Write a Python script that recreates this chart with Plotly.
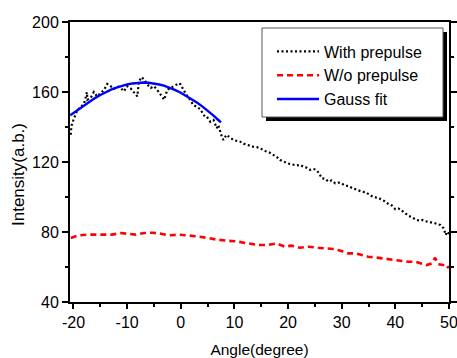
import plotly.graph_objects as go

# ---- data ----
with_x = [-20.5, -20.4, -19.9, -19.6, -19.3, -18.7, -18.0, -17.5, -17.4, -16.8, -16.2, -15.9, -15.6,
          -14.9, -14.3, -13.7, -13.1, -12.4, -11.8, -11.2, -10.6, -10.0, -9.3, -8.7, -8.1, -7.8,
          -7.3, -6.8, -6.2, -5.6, -5.0, -4.4, -3.7, -3.1, -2.5, -1.9, -1.25, -0.3, 0.0, 0.6, 1.0,
          1.5, 2.2, 2.35, 3.0, 3.6, 4.5, 4.85, 5.5, 6.1, 6.7, 7.0, 7.65, 7.95, 8.5, 9.2, 9.8, 10.5,
          11.1, 11.7, 12.3, 13.0, 13.5, 14.2, 14.8, 15.4, 16.0, 16.6, 17.3, 17.9, 18.5, 19.1, 19.8,
          20.4, 21.0, 21.6, 22.3, 22.9, 23.5, 24.1, 24.7, 25.2, 25.7, 26.3, 26.9, 27.5, 28.1, 28.8,
          29.4, 30.0, 30.6, 31.3, 31.9, 32.5, 33.2, 33.8, 34.4, 35.0, 35.6, 36.3, 36.9, 37.5, 38.1,
          38.7, 39.4, 40.0, 40.6, 41.2, 41.9, 42.5, 43.1, 43.7, 44.4, 45.0, 45.6, 46.2, 46.8, 47.4,
          47.9, 48.4, 49.0, 49.4, 49.6, 50.0]
with_y = [135.6, 140.4, 145.1, 147.0, 149.9, 150.9, 153.7, 159.8, 155.6, 156.6, 160.0, 158.5, 157.5,
          159.4, 161.3, 164.6, 163.3, 161.9, 163.3, 162.3, 160.4, 163.3, 161.9, 159.4, 157.5, 166.0,
          168.5, 167.0, 164.2, 162.3, 163.3, 161.3, 158.5, 155.6, 161.3, 162.3, 163.3, 165.1, 164.2,
          160.4, 158.5, 156.6, 153.7, 152.6, 151.5, 150.2, 145.9, 145.9, 143.0, 144.0, 139.3, 141.1,
          134.5, 132.6, 135.5, 134.1, 132.6, 132.0, 131.6, 130.5, 129.7, 129.2, 128.7, 128.5, 127.8,
          126.8, 125.9, 125.3, 124.0, 122.8, 121.1, 120.5, 119.3, 118.8, 118.3, 118.0, 118.3, 117.2,
          116.7, 115.5, 116.0, 115.6, 113.9, 110.7, 110.5, 108.8, 109.5, 107.8, 108.2, 107.8, 106.5,
          106.3, 105.2, 104.4, 103.6, 103.0, 102.8, 101.7, 100.5, 99.8, 99.5, 98.3, 97.5, 96.0, 95.0,
          93.0, 93.4, 92.2, 90.5, 89.1, 88.5, 87.2, 86.5, 86.9, 86.2, 85.9, 85.3, 85.0, 84.5, 84.0,
          82.1, 78.3, 80.2, 79.0]

wo_x = [-20.5, -19.0, -17.4, -15.9, -14.3, -12.8, -11.2, -10.0, -8.4, -6.8, -5.3, -3.7, -2.2, -0.3,
        1.2, 3.1, 5.0, 6.8, 8.7, 10.3, 12.1, 14.0, 14.4, 16.3, 17.8, 19.4, 20.6, 22.2, 23.8, 25.6,
        26.9, 28.4, 30.0, 31.2, 32.5, 33.7, 34.9, 36.2, 37.4, 38.7, 39.9, 41.2, 42.4, 43.7, 44.9,
        45.8, 46.8, 47.4, 48.0, 48.9, 49.6, 50.0]
wo_y = [76.6, 78.1, 78.5, 78.5, 78.9, 78.5, 79.4, 79.0, 78.5, 79.4, 79.6, 79.0, 78.1, 78.5,
        78.1, 77.5, 76.6, 75.6, 75.0, 74.7, 73.7, 72.7, 72.6, 72.6, 73.5, 71.6, 72.2, 71.0, 71.6, 71.0,
        70.7, 70.3, 69.1, 67.8, 67.8, 66.9, 65.9, 65.5, 65.0, 64.4, 64.0, 63.4, 63.0, 63.0, 62.1,
        61.1, 62.1, 65.3, 61.6, 61.1, 59.3, 60.5]

fit_x = [-20.6, -20, -19, -18, -17, -16, -15, -14, -13, -12, -11, -10, -9, -8, -7, -6, -5, -4, -3,
         -2, -1, 0, 1, 2, 3, 4, 5, 6, 7, 7.5]
fit_y = [146.7, 148.0, 150.3, 152.5, 154.6, 156.5, 158.3, 159.9, 161.3, 162.5, 163.5, 164.3, 164.9,
         165.3, 165.4, 165.3, 164.9, 164.3, 163.5, 162.4, 161.1, 159.6, 157.9, 156.0, 154.0, 151.8,
         149.4, 146.8, 144.0, 142.6]

x_ticks = [-20, -10, 0, 10, 20, 30, 40, 50]
y_ticks = [40, 80, 120, 160, 200]

FONT = "Liberation Sans, Arial, sans-serif"

fig = go.Figure()
fig.add_trace(go.Scatter(x=with_x, y=with_y, mode="lines", name="With prepulse",
                         line=dict(color="black", width=2.2, dash="2px,2.5px")))
fig.add_trace(go.Scatter(x=wo_x, y=wo_y, mode="lines", name="W/o prepulse",
                         line=dict(color="#ff0000", width=2.6, dash="6px,4px")))
fig.add_trace(go.Scatter(x=fit_x, y=fit_y, mode="lines", name="Gauss fit",
                         line=dict(color="#0000ff", width=2.4)))

L, R, T, B = 70, 8, 22, 56
W, H = 457, 358
pw, ph = W - L - R, H - T - B


def px_x(p):
    return (p - L) / pw


def px_y(p):
    return (H - B - p) / ph


fig.update_layout(
    width=W, height=H,
    margin=dict(l=L, r=R, t=T, b=B, pad=0, autoexpand=False),
    paper_bgcolor="white", plot_bgcolor="white",
    font=dict(family=FONT, size=16, color="black"),
    showlegend=True,
    legend=dict(x=px_x(272), y=px_y(34.5), xanchor="left", yanchor="top",
                bgcolor="rgba(0,0,0,0)", borderwidth=0,
                font=dict(family=FONT, size=16, color="black"),
                itemwidth=42, tracegroupgap=0),
    shapes=[
        # legend drop shadow and frame
        dict(type="rect", xref="paper", yref="paper",
             x0=px_x(266), x1=px_x(447), y0=px_y(32), y1=px_y(121),
             fillcolor="black", line=dict(width=0), layer="above"),
        dict(type="rect", xref="paper", yref="paper",
             x0=px_x(262), x1=px_x(443), y0=px_y(28), y1=px_y(117),
             fillcolor="white", line=dict(width=1, color="#555555"), layer="above"),
    ],
    xaxis=dict(range=[-20.65, 50], tickvals=x_ticks, ticktext=[str(v) for v in x_ticks],
               automargin=False, ticklabeloverflow="allow",
               showgrid=False, zeroline=False, showline=True, linecolor="black", linewidth=2,
               mirror=True, ticks="outside", ticklen=5, tickwidth=1.5, tickcolor="black",
               minor=dict(dtick=5, tick0=0, ticks="outside", ticklen=3, tickwidth=1.5,
                          tickcolor="black", showgrid=False),
               tickfont=dict(size=16),
               title=dict(text="Angle(degree)", font=dict(size=15.5), standoff=14)),
    yaxis=dict(range=[40, 200], tickvals=y_ticks, ticktext=[str(v) for v in y_ticks],
               automargin=False, ticklabeloverflow="allow",
               showgrid=False, zeroline=False, showline=True, linecolor="black", linewidth=2,
               mirror="allticks", ticks="outside", ticklen=6, tickwidth=1.5, tickcolor="black",
               minor=dict(dtick=20, tick0=0, ticks="outside", ticklen=3, tickwidth=1.5,
                          tickcolor="black", showgrid=False),
               tickfont=dict(size=16)),
    annotations=[dict(text="Intensity(a.b.)", textangle=-90, xref="paper", yref="paper",
                      x=px_x(18), y=px_y(175), showarrow=False,
                      xanchor="center", yanchor="middle", font=dict(size=17))],
)

fig.write_html("out.html")
